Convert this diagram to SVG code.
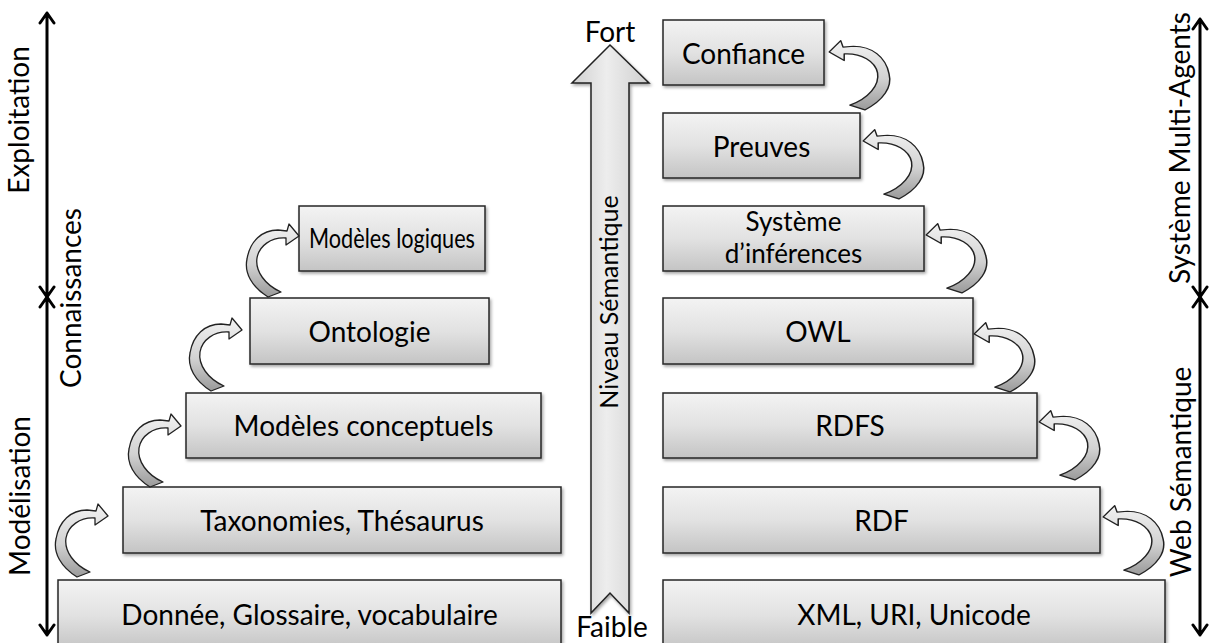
<svg xmlns="http://www.w3.org/2000/svg" xmlns:xlink="http://www.w3.org/1999/xlink" width="1209" height="643" viewBox="0 0 1209 643">
<defs>
<linearGradient id="gBox" x1="0" y1="0" x2="0" y2="1">
<stop offset="0" stop-color="#f3f3f3"/>
<stop offset="0.5" stop-color="#e2e2e2"/>
<stop offset="1" stop-color="#c4c4c4"/>
</linearGradient>
<linearGradient id="gMid" x1="0" y1="0" x2="1" y2="0">
<stop offset="0" stop-color="#d0d0d0"/>
<stop offset="0.45" stop-color="#ededed"/>
<stop offset="1" stop-color="#cfcfcf"/>
</linearGradient>
<linearGradient id="gArr" x1="0" y1="0" x2="0" y2="1">
<stop offset="0" stop-color="#f2f2f2"/>
<stop offset="0.55" stop-color="#d2d2d2"/>
<stop offset="1" stop-color="#9a9a9a"/>
</linearGradient>
<filter id="sh" x="-5%" y="-10%" width="115%" height="130%">
<feDropShadow dx="1.5" dy="2" stdDeviation="1.5" flood-color="#000" flood-opacity="0.35"/>
</filter>
<path id="ca" d="M -6,2 C -22,-8 -30,-22 -27,-36 C -24,-54 -12,-65 4,-65 L 13,-64 L 15,-71 L 25,-59 L 12,-50 L 12,-57 C -3,-58 -15,-49 -17,-37 C -19,-24 -9,-10 7,-3 Z"/>
</defs>
<style>
.box { fill: url(#gBox); stroke: #262626; stroke-width: 1.5; filter: url(#sh); }
.t { font-family: Lato, "Open Sans", sans-serif; font-size: 28px; fill: #000; text-anchor: middle; }
.lab { font-size: 28px; }
.cv { fill: url(#gArr); stroke: #222; stroke-width: 1.3; stroke-linejoin: round; }
.ax { stroke: #000; stroke-width: 3; fill: none; stroke-linecap: round; stroke-linejoin: round; }
</style>
<rect width="1209" height="643" fill="#fff"/>

<g id="axis-left">
<path class="ax" d="M47,13 L47,296 M40,23 L47,13 L54,23 M40,287 L47,297 L54,287"/>
<path class="ax" d="M47,298 L47,635 M40,307 L47,297 L54,307 M40,625 L47,635 L54,625"/>
<text class="t lab" transform="translate(29,120) rotate(-90)">Exploitation</text>
<text class="t lab" transform="translate(81,298) rotate(-90)">Connaissances</text>
<text class="t lab" transform="translate(30,496) rotate(-90)">Modélisation</text>
</g>

<g id="axis-right">
<path class="ax" d="M1200,19 L1200,296 M1193,29 L1200,19 L1207,29 M1193,287 L1200,297 L1207,287"/>
<path class="ax" d="M1200,298 L1200,635 M1193,307 L1200,297 L1207,307 M1193,625 L1200,635 L1207,625"/>
<text class="t lab" transform="translate(1190,148) rotate(-90)">Système Multi-Agents</text>
<text class="t lab" transform="translate(1191,472) rotate(-90)">Web Sémantique</text>
</g>

<g id="semantic-level">
<path d="M610,45 L649,83 L629,83 L629,613 L610,593 L591,613 L591,83 L572,83 Z" fill="url(#gMid)" stroke="#222" stroke-width="1.5" stroke-linejoin="miter" filter="url(#sh)"/>
<text class="t" x="610" y="42">Fort</text>
<text class="t" x="612" y="637">Faible</text>
<text class="t" style="font-size:25px" transform="translate(618,302) rotate(-90)">Niveau Sémantique</text>
</g>

<g id="n-donnee"><rect class="box" x="58" y="580" width="503" height="70"/><text class="t" x="309.5" y="625">Donnée, Glossaire, vocabulaire</text></g>
<g id="n-taxonomies"><rect class="box" x="123" y="487" width="438" height="66"/><text class="t" x="342" y="531">Taxonomies, Thésaurus</text></g>
<g id="n-conceptuels"><rect class="box" x="186" y="393" width="355" height="65"/><text class="t" x="363.5" y="436">Modèles conceptuels</text></g>
<g id="n-ontologie"><rect class="box" x="250" y="298" width="239" height="66"/><text class="t" x="369.5" y="342">Ontologie</text></g>
<g id="n-logiques"><rect class="box" x="299" y="206" width="186" height="65"/><text class="t" style="font-size:26px" x="392" y="248" textLength="166" lengthAdjust="spacingAndGlyphs">Modèles logiques</text></g>

<g id="n-xml"><rect class="box" x="663" y="580" width="502" height="70"/><text class="t" x="914" y="625">XML, URI, Unicode</text></g>
<g id="n-rdf"><rect class="box" x="663" y="487" width="437" height="66"/><text class="t" x="881.5" y="531">RDF</text></g>
<g id="n-rdfs"><rect class="box" x="663" y="393" width="374" height="65"/><text class="t" x="850" y="436">RDFS</text></g>
<g id="n-owl"><rect class="box" x="663" y="298" width="310" height="66"/><text class="t" x="818" y="342">OWL</text></g>
<g id="n-inferences"><rect class="box" x="663" y="206" width="261" height="65"/><text class="t" style="font-size:26px" x="793.5" y="231">Système</text><text class="t" style="font-size:26px" x="793.5" y="263">d’inférences</text></g>
<g id="n-preuves"><rect class="box" x="663" y="113" width="197" height="65"/><text class="t" x="761.5" y="157">Preuves</text></g>
<g id="n-confiance"><rect class="box" x="663" y="20" width="161" height="65"/><text class="t" x="743.5" y="64">Confiance</text></g>

<g id="connectors">
<use xlink:href="#ca" class="cv" transform="translate(83,575)"/>
<use xlink:href="#ca" class="cv" transform="translate(156,485)"/>
<use xlink:href="#ca" class="cv" transform="translate(217,389)"/>
<use xlink:href="#ca" class="cv" transform="translate(274,295)"/>
<use xlink:href="#ca" class="cv" transform="translate(1132,573) scale(-1.15,0.95)"/>
<use xlink:href="#ca" class="cv" transform="translate(1068,478) scale(-1.15,0.95)"/>
<use xlink:href="#ca" class="cv" transform="translate(1003,390) scale(-1.15,0.95)"/>
<use xlink:href="#ca" class="cv" transform="translate(955,291) scale(-1.15,0.95)"/>
<use xlink:href="#ca" class="cv" transform="translate(892,197) scale(-1.15,0.95)"/>
<use xlink:href="#ca" class="cv" transform="translate(858,108) scale(-1.15,0.95)"/>
</g>
</svg>
